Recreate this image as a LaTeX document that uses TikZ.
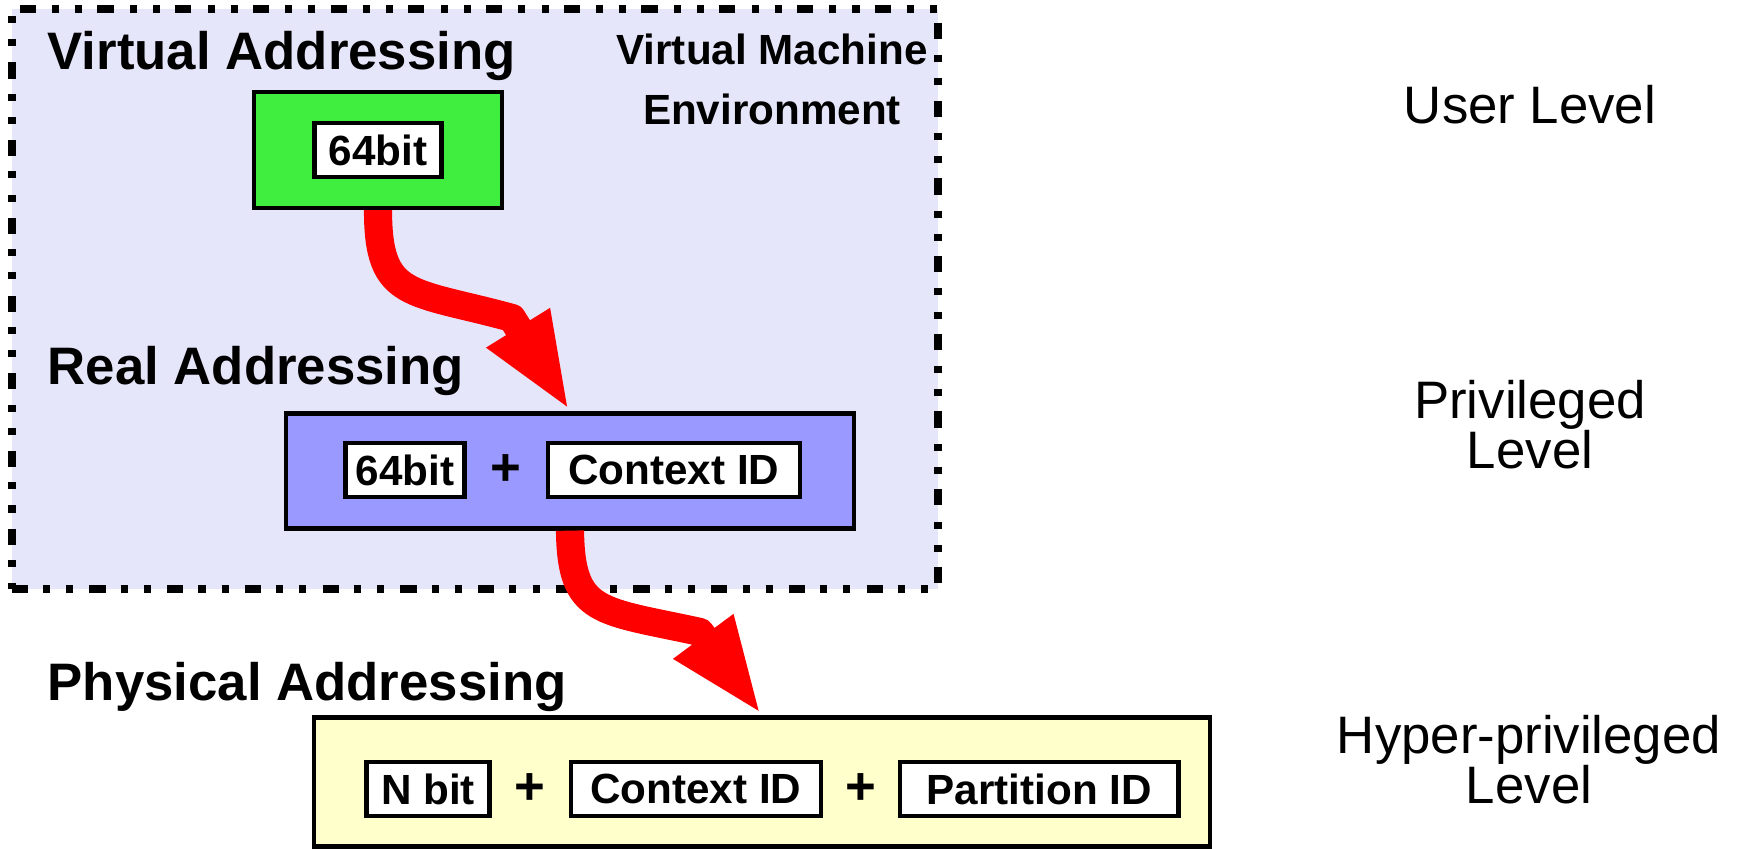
\documentclass[tikz,border=0pt]{standalone}
\usepackage{fontspec}
\setmainfont{Liberation Sans}
\usetikzlibrary{arrows.meta, positioning, calc}
\definecolor{vmlavender}{RGB}{230, 230, 250}
\definecolor{vagreen}{RGB}{64, 238, 64}
\definecolor{rablue}{RGB}{153, 153, 255}
\definecolor{pacream}{RGB}{255, 255, 204}
\definecolor{flowred}{RGB}{255, 0, 0}

\begin{document}
\begin{tikzpicture}[
        x=0.01cm, y=-0.01cm,
        vmframe/.style={rectangle, fill=vmlavender, draw=black, line width=2.3pt, dash pattern=on 4.6pt off 4.3pt on 2pt off 4.6pt on 2pt off 4.6pt, inner sep=0pt},
        levelbox/.style={rectangle, draw=black, line width=1.2pt, inner sep=0pt},
        field/.style={rectangle, draw=black, line width=1.2pt, fill=white, inner sep=0pt, minimum height=0.54cm, font=\fontsize{12}{14}\selectfont\bfseries},
        plus/.style={inner sep=0pt, font=\fontsize{15}{18}\selectfont\bfseries},
        heading/.style={anchor=base west, inner sep=0pt, font=\fontsize{15}{18}\selectfont\bfseries},
        privlabel/.style={align=center, inner sep=0pt, font=\fontsize{15}{14}\selectfont},
        flow/.style={-{Triangle[length=28pt, width=19pt]}, line width=8pt, draw=flowred, line join=round}
    ]
        \useasboundingbox (0,0) rectangle (1740,849);

        % Virtual machine area
        \node[vmframe, minimum width=9.26cm, minimum height=5.8cm] (vm) at (475,299) {};
        \node[align=center, inner sep=0pt, anchor=north, font=\fontsize{12}{17}\selectfont\bfseries] (vmlabel) at (772,33) {Virtual Machine\\Environment};

        % Headings
        \node[heading] (vahead) at (47,70) {Virtual Addressing};
        \node[heading] (rahead) at (47,385) {Real Addressing};
        \node[heading] (pahead) at (47,700) {Physical Addressing};

        % Address boxes
        \node[levelbox, fill=vagreen, minimum width=2.48cm, minimum height=1.16cm] (virt) at (378,150) {};
        \node[field, minimum width=1.27cm] (vbits) at (virt) {64bit};

        \node[levelbox, fill=rablue, minimum width=5.67cm, minimum height=1.15cm] (real) at (570,471) {};
        \node[field, minimum width=1.19cm] (rbits) at (405,470) {64bit};
        \node[field, minimum width=2.52cm, right=0.79cm of rbits] (rctx) {Context ID};
        \node[plus] (rplus) at ($(rbits.east)!0.5!(rctx.west)$) {+};

        \node[levelbox, fill=pacream, minimum width=8.96cm, minimum height=1.29cm] (phys) at (762,782) {};
        \node[field, minimum width=1.23cm] (pbits) at (428,789) {N bit};
        \node[field, minimum width=2.50cm, right=0.77cm of pbits] (pctx) {Context ID};
        \node[field, minimum width=2.78cm, right=0.75cm of pctx] (ppart) {Partition ID};
        \node[plus] (pplus1) at ($(pbits.east)!0.5!(pctx.west)$) {+};
        \node[plus] (pplus2) at ($(pctx.east)!0.5!(ppart.west)$) {+};

        % Privilege levels
        \node[privlabel, anchor=base] (user) at (1530,124) {User Level};
        \node[privlabel, anchor=north] (priv) at (1530,380) {Privileged\\Level};
        \node[privlabel, anchor=north] (hyper) at (1529,715) {Hyper-privileged\\Level};

        % Translations
        \draw[flow] (virt.south) .. controls (378,300) and (410,290) .. (512,318) -- (real.north);
        \draw[flow] (real.south) .. controls (571,615) and (600,610) .. (700,632) -- (phys.north);
    \end{tikzpicture}
\end{document}
